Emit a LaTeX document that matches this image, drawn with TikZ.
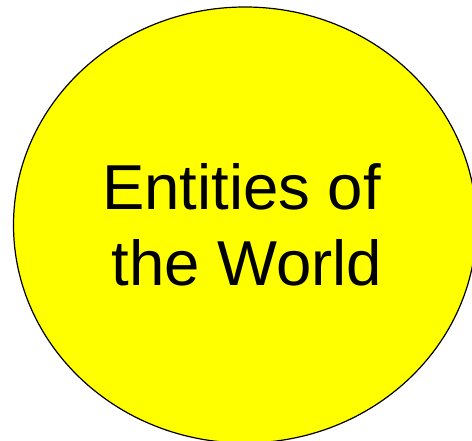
\documentclass[tikz,border=0pt]{standalone}
\usepackage{fontspec}
\setmainfont{Liberation Sans}
\usetikzlibrary{shapes.geometric}
\definecolor{entyellow}{RGB}{255,255,0}
\tikzset{
  entity/.style={ellipse, draw=black, line width=1.2pt, fill=entyellow,
    minimum width=463pt, minimum height=436pt, inner sep=0pt,
    align=center, font=\fontsize{63.5pt}{75.7pt}\selectfont}
}
\begin{document}
\begin{tikzpicture}
\clip (0,0) rectangle (472pt,441pt);
\node[entity] (ent) at (245pt,216pt) {Entities of\hspace*{7pt}\\\hspace*{4pt}the World};
\end{tikzpicture}
\end{document}
